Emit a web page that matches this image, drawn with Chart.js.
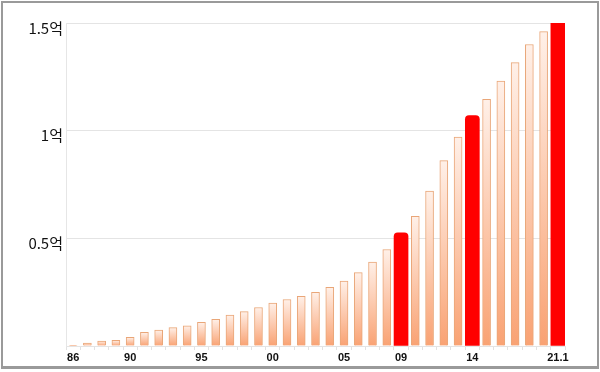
<!DOCTYPE html>
<html>
<head>
<meta charset="utf-8">
<script src="https://cdn.jsdelivr.net/npm/chart.js@4.4.1/dist/chart.umd.min.js"></script>
<style>
  html, body { margin: 0; padding: 0; background: #fff; }
  #wrap { position: relative; width: 600px; height: 372px; }
  #frame {
    position: absolute; left: 1px; top: 1px; width: 598px; height: 368px;
    box-sizing: border-box; border: 2px solid #9a9a9a; border-bottom-width: 3px;
    pointer-events: none;
  }
</style>
</head>
<body>
<div id="wrap">
  <canvas id="chart" width="600" height="372"></canvas>
  <div id="frame"></div>
</div>
<script>
/* =========================
   Data (억)
========================= */

const years = ["86", "87", "88", "89", "90", "91", "92", "93", "94", "95",
  "96", "97", "98", "99", "00", "01", "02", "03", "04", "05",
  "06", "07", "08", "09", "10", "11", "12", "13", "14", "15",
  "16", "17", "18", "19", "21.1"];

const values = [0.003, 0.014, 0.023, 0.026, 0.040, 0.063, 0.074, 0.085, 0.094, 0.110,
  0.124, 0.144, 0.160, 0.179, 0.199, 0.216, 0.231, 0.249, 0.273, 0.302,
  0.341, 0.390, 0.448, 0.525, 0.602, 0.719, 0.861, 0.970, 1.070, 1.145,
  1.230, 1.316, 1.400, 1.460, 1.500];

const highlighted = ["09", "14", "21.1"];
const shownLabels = ["86", "90", "95", "00", "05", "09", "14", "21.1"];
const yTicks = [0.5, 1, 1.5];

/* =========================
   Build datasets
========================= */

const plainData = values.map((v, i) => highlighted.includes(years[i]) ? null : v);
const redData = values.map((v, i) => highlighted.includes(years[i]) ? v : null);

function barGradient(ctx) {
  const chart = ctx.chart;
  const y = chart.scales.y;
  if (!chart.chartArea || !y || ctx.raw == null) return "#fbc3a3";
  const top = y.getPixelForValue(ctx.raw);
  const bottom = y.getPixelForValue(0);
  if (!isFinite(top) || !isFinite(bottom) || bottom - top < 1) return "#f9a373";
  const g = chart.ctx.createLinearGradient(0, top, 0, bottom);
  g.addColorStop(0, "#fff0e8");
  g.addColorStop(1, "#f9a273");
  return g;
}

new Chart(document.getElementById("chart"), {
  type: "bar",
  data: {
    labels: years,
    datasets: [
      {
        data: plainData,
        backgroundColor: barGradient,
        borderColor: "#e9a678",
        borderWidth: 1,
        borderSkipped: "bottom",
        barThickness: 8,
        grouped: false
      },
      {
        data: redData,
        backgroundColor: "#ff0000",
        borderWidth: 0,
        barThickness: 14,
        grouped: false,
        borderRadius: ctx => ctx.dataIndex === years.length - 1 ? 0 : { topLeft: 4, topRight: 4 },
        borderSkipped: "bottom"
      }
    ]
  },
  options: {
    responsive: false,
    animation: false,
    layout: { padding: { left: 0, right: 35, top: 23, bottom: 0 } },
    plugins: {
      legend: { display: false },
      tooltip: { enabled: false }
    },
    scales: {
      x: {
        offset: true,
        border: { display: true, color: "#e4e4e4" },
        grid: {
          offset: true,
          drawOnChartArea: false,
          tickLength: 4,
          color: "#e2e2e2"
        },
        ticks: {
          autoSkip: false,
          maxRotation: 0,
          padding: 1,
          color: "#111",
          font: { family: "'Liberation Sans', Arial, sans-serif", size: 11, weight: "bold" },
          callback: function (value) {
            const lab = this.getLabelForValue(value);
            return shownLabels.includes(lab) ? lab : "";
          }
        },
        afterFit: scale => { scale.height = 26; }
      },
      y: {
        min: 0,
        max: 1.5,
        border: { display: true, color: "#e6e6e6" },
        grid: { color: "#e4e4e4", drawTicks: false },
        afterBuildTicks: scale => {
          scale.ticks = [0].concat(yTicks).map(v => ({ value: v }));
        },
        ticks: {
          padding: 3,
          labelOffset: 5,
          color: "#111",
          font: { family: "'Noto Sans CJK KR', sans-serif", size: 15 },
          callback: v => v === 0 ? "" : v + "억"
        },
        afterFit: scale => { scale.width = 66; }
      }
    }
  }
});
</script>
</body>
</html>
